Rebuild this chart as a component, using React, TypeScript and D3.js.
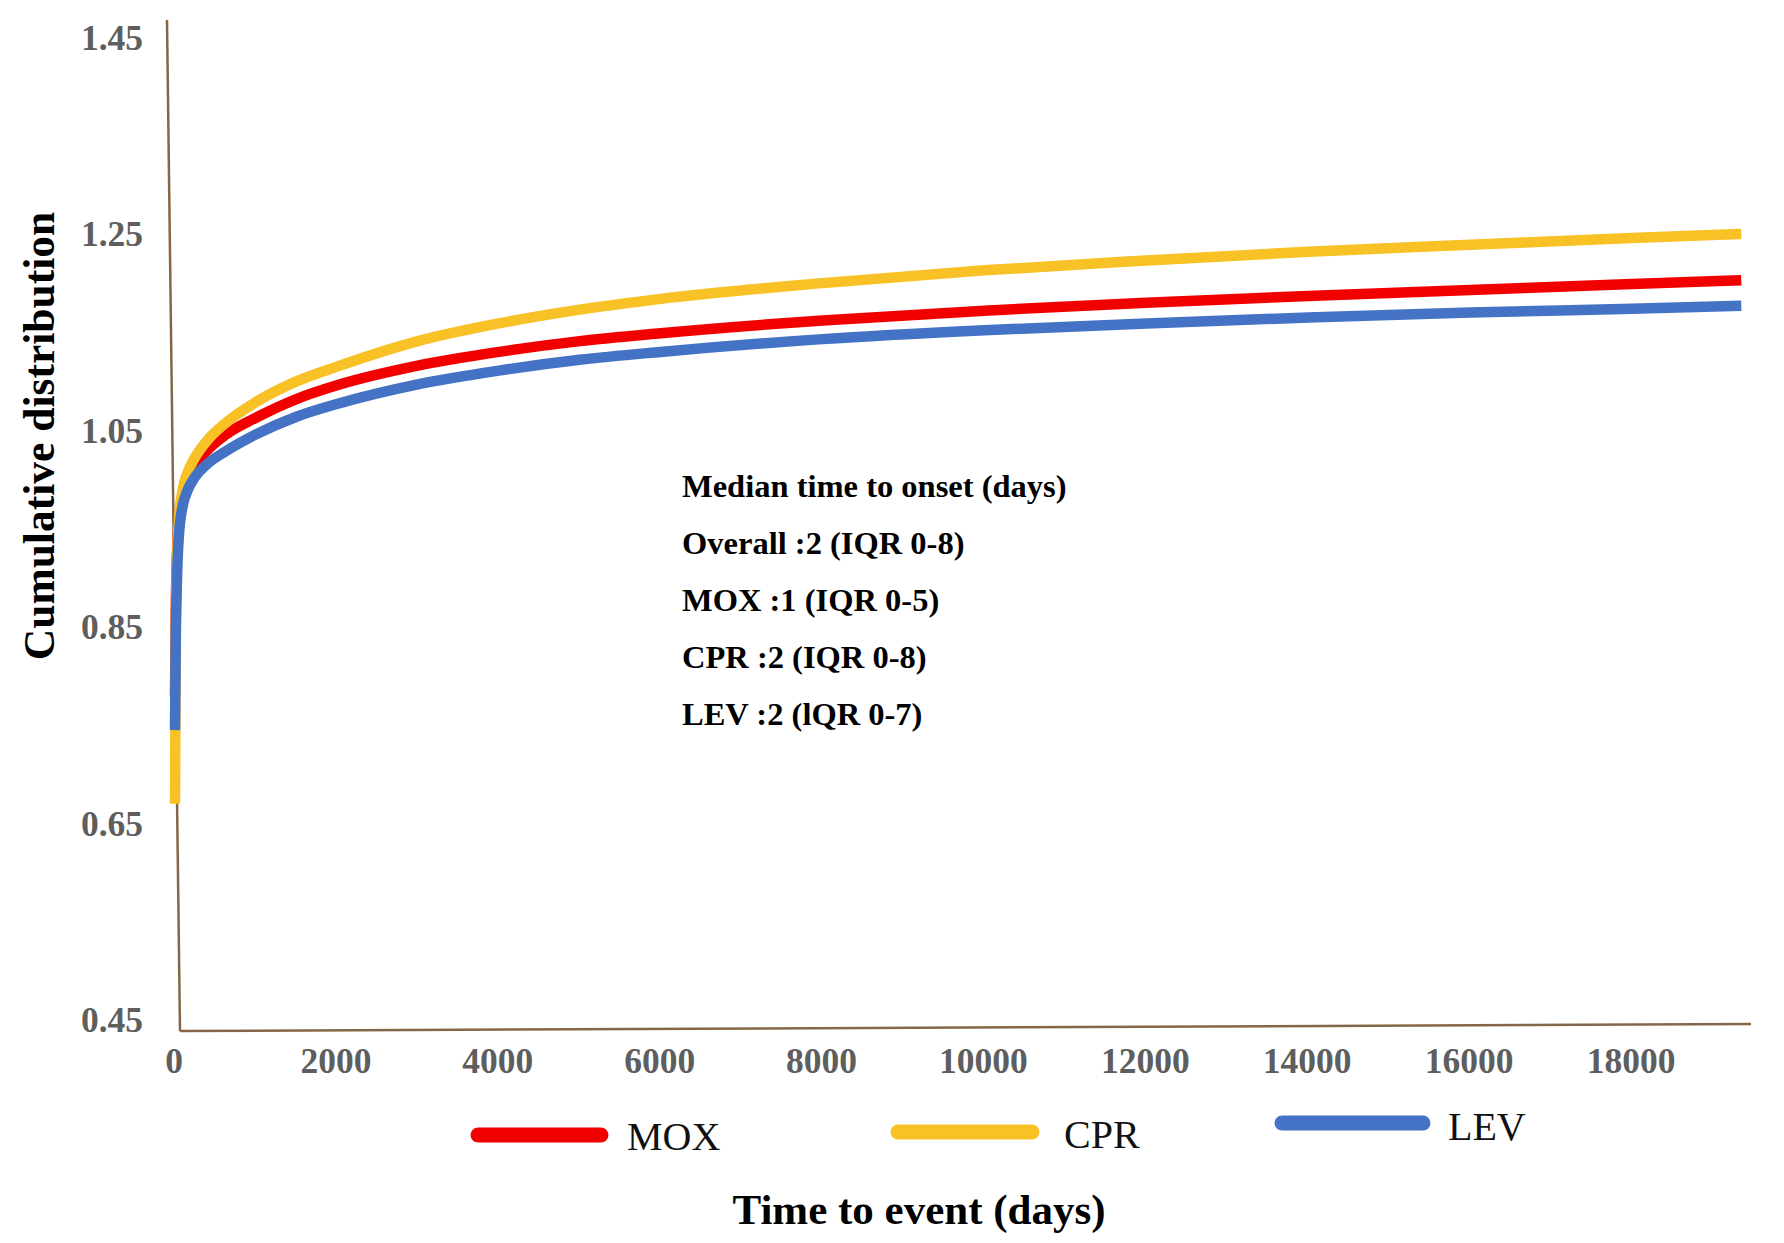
import React from "react";
import * as d3 from "d3";

const days = [0, 10, 25, 50, 100, 150, 250, 400, 630, 1000, 1500, 2000, 3000, 4000, 5000, 6000, 8000, 10000, 12000, 14000, 16000, 18000, 19350];
const mox = [0.78, 0.87, 0.925, 0.96, 0.985, 0.998, 1.014, 1.03, 1.046, 1.063, 1.082, 1.096, 1.116, 1.13, 1.141, 1.149, 1.162, 1.172, 1.18, 1.187, 1.193, 1.199, 1.203];
const cpr = [0.67, 0.85, 0.92, 0.96, 0.992, 1.006, 1.023, 1.04, 1.058, 1.079, 1.1, 1.115, 1.141, 1.159, 1.173, 1.184, 1.2, 1.213, 1.223, 1.232, 1.239, 1.246, 1.25];
const lev = [0.745, 0.84, 0.9, 0.945, 0.975, 0.988, 1.003, 1.016, 1.029, 1.046, 1.064, 1.077, 1.097, 1.111, 1.122, 1.13, 1.143, 1.152, 1.159, 1.165, 1.17, 1.174, 1.177];

const seriesNames = ["MOX", "CPR", "LEV"];
const seriesColors = ["#F20000", "#F8C126", "#4472C4"];
const xTicks = [0, 2000, 4000, 6000, 8000, 10000, 12000, 14000, 16000, 18000];
const yTicks = [0.45, 0.65, 0.85, 1.05, 1.25, 1.45];
const annotation = [
  "Median time to onset (days)",
  "Overall :2 (IQR 0-8)",
  "MOX :1 (IQR 0-5)",
  "CPR :2 (IQR 0-8)",
  "LEV :2 (lQR 0-7)",
];

const W = 1784;
const H = 1243;
const FONT = "'Liberation Serif', 'Times New Roman', serif";

export default function App() {
  const x = d3.scaleLinear().domain([0, 18000]).range([175, 1632]);
  const y = d3.scaleLinear().domain([0.45, 1.45]).range([1020, 37.5]);
  const line = d3
    .line<number>()
    .x((_, i) => x(days[i]))
    .y((v) => y(v))
    .curve(d3.curveMonotoneX);

  const data = [mox, cpr, lev];
  const drawOrder = [0, 1, 2];
  const legendX = [
    { x1: 478, x2: 601, tx: 627, ty: 1150, by: 1135 },
    { x1: 898, x2: 1032, tx: 1064, ty: 1148, by: 1132 },
    { x1: 1282, x2: 1423, tx: 1448, ty: 1140, by: 1123 },
  ];

  return (
    <div style={{ position: "absolute", left: 0, top: 0 }}>
      <svg width={W} height={H} style={{ display: "block", background: "#fff" }}>
        <rect x={0} y={0} width={W} height={H} fill="#fff" />
        {/* axes */}
        <line x1={167} y1={20} x2={180} y2={1031} stroke="#86664a" strokeWidth={2.5} />
        <line x1={180} y1={1031} x2={1751} y2={1024} stroke="#86664a" strokeWidth={2.5} />
        {/* y tick labels */}
        {yTicks.map((t) => (
          <text
            key={t}
            x={143}
            y={y(t) + 12}
            textAnchor="end"
            fontFamily={FONT}
            fontWeight="bold"
            fontSize={35.5}
            fill="#5e5e5e"
          >
            {t.toFixed(2)}
          </text>
        ))}
        {/* x tick labels */}
        {xTicks.map((t) => (
          <text
            key={t}
            x={x(t) - 1}
            y={1073}
            textAnchor="middle"
            fontFamily={FONT}
            fontWeight="bold"
            fontSize={35.5}
            fill="#5e5e5e"
          >
            {t}
          </text>
        ))}
        {/* curves */}
        {drawOrder.map((i) => (
          <path
            key={seriesNames[i]}
            d={line(data[i]) || ""}
            fill="none"
            stroke={seriesColors[i]}
            strokeWidth={10.5}
            strokeLinejoin="round"
          />
        ))}
        {/* annotation */}
        {annotation.map((s, i) => (
          <text
            key={s}
            x={682}
            y={497 + i * 57}
            fontFamily={FONT}
            fontWeight="bold"
            fontSize={32.5}
            fill="#000"
          >
            {s}
          </text>
        ))}
        {/* legend */}
        {seriesNames.map((n, i) => (
          <g key={n}>
            <line
              x1={legendX[i].x1}
              x2={legendX[i].x2}
              y1={legendX[i].by}
              y2={legendX[i].by}
              stroke={seriesColors[i]}
              strokeWidth={15}
              strokeLinecap="round"
            />
            <text x={legendX[i].tx} y={legendX[i].ty} fontFamily={FONT} fontSize={40} fill="#111">
              {n}
            </text>
          </g>
        ))}
        {/* axis titles */}
        <text
          x={919}
          y={1224}
          textAnchor="middle"
          fontFamily={FONT}
          fontWeight="bold"
          fontSize={43}
          fill="#000"
        >
          Time to event (days)
        </text>
        <text
          transform="translate(54,436) rotate(-90)"
          textAnchor="middle"
          fontFamily={FONT}
          fontWeight="bold"
          fontSize={43.5}
          fill="#000"
        >
          Cumulative distribution
        </text>
      </svg>
    </div>
  );
}
